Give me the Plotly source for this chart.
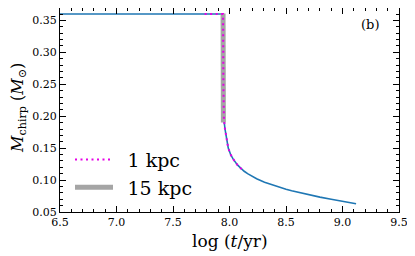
import plotly.graph_objects as go

# Full track (blue)
logt_full = [6.5, 7.943, 7.946, 7.951, 7.960, 7.975, 7.989, 8.01, 8.03, 8.07, 8.108,
             8.13, 8.16, 8.19, 8.24, 8.31, 8.38, 8.45, 8.5, 8.55, 8.65, 8.75, 8.8,
             8.9, 8.95, 9.0, 9.05, 9.12]
mchirp_full = [0.36, 0.36, 0.25, 0.195, 0.180, 0.161, 0.150, 0.140, 0.1335, 0.1237, 0.117,
               0.1138, 0.110, 0.1068, 0.102, 0.0967, 0.0922, 0.0883, 0.0857, 0.0833, 0.079,
               0.0751, 0.0733, 0.070, 0.0683, 0.0668, 0.0653, 0.063]

# Detectable at 1 kpc (magenta dotted)
logt_1kpc = [7.78, 7.943, 7.946, 7.951, 7.960, 7.975, 7.989, 8.01, 8.03, 8.07, 8.108]
mchirp_1kpc = [0.36, 0.36, 0.25, 0.195, 0.180, 0.161, 0.150, 0.140, 0.1335, 0.1237, 0.117]

# Detectable at 15 kpc (grey)
logt_15kpc = [7.943, 7.946]
mchirp_15kpc = [0.361, 0.19]

FONT = "DejaVu Serif"
GAP = "\u2002"

fig = go.Figure()
fig.add_trace(go.Scatter(x=logt_full, y=mchirp_full, mode="lines",
                         line=dict(color="#1f77b4", width=1.6), showlegend=False))
fig.add_trace(go.Scatter(x=logt_15kpc, y=mchirp_15kpc, mode="lines", name=GAP + "15 kpc",
                         line=dict(color="#a5a5a5", width=5), legendrank=2))
fig.add_trace(go.Scatter(x=logt_1kpc, y=mchirp_1kpc, mode="lines", name=GAP + "1 kpc",
                         line=dict(color="#e600e6", width=2, dash="2px,3.5px"), legendrank=1))

axis_common = dict(showline=True, linecolor="black", linewidth=1.2, mirror="allticks",
                   ticks="inside", ticklen=6, tickwidth=1, tickcolor="black",
                   showgrid=False, zeroline=False, automargin=False,
                   ticklabeloverflow="allow",
                   tickfont=dict(family=FONT, size=11, color="black"))

fig.update_xaxes(range=[6.5, 9.5], dtick=0.5, tick0=6.5, tickformat=".1f",
                 minor=dict(ticks="inside", dtick=0.1, ticklen=3, tickcolor="black"),
                 **axis_common)
fig.update_yaxes(range=[0.05, 0.3695], dtick=0.05, tick0=0.05, tickformat=".2f",
                 minor=dict(ticks="inside", dtick=0.01, ticklen=3, tickcolor="black"),
                 **axis_common)

# axis titles as annotations for precise placement
fig.add_annotation(text="log (<i>t</i>/yr)", x=0.5, y=0, xref="paper", yref="paper",
                   xanchor="center", yanchor="middle", yshift=-29, showarrow=False,
                   font=dict(family=FONT, size=17, color="black"))
fig.add_annotation(text="<i>M</i><sub>chirp</sub> (<i>M</i><sub>⊙</sub>)", x=0, y=0.51,
                   xref="paper", yref="paper", xanchor="center", yanchor="middle",
                   xshift=-41, textangle=-90, showarrow=False,
                   font=dict(family=FONT, size=16, color="black"))

fig.add_annotation(text="(b)", x=0.948, y=0.965, xref="paper", yref="paper",
                   xanchor="right", yanchor="top", showarrow=False,
                   font=dict(family=FONT, size=13, color="black"))

# page body has an 8px margin, so the figure is sized to the remaining window
fig.update_layout(
    width=407, height=248,
    margin=dict(l=52, r=16, t=0, b=44),
    plot_bgcolor="white", paper_bgcolor="white",
    legend=dict(x=0.0295, y=0.35, xanchor="left", yanchor="top",
                bgcolor="rgba(0,0,0,0)", font=dict(family=FONT, size=19, color="black"),
                itemwidth=38, tracegroupgap=2),
)

fig.write_html("out.html")
